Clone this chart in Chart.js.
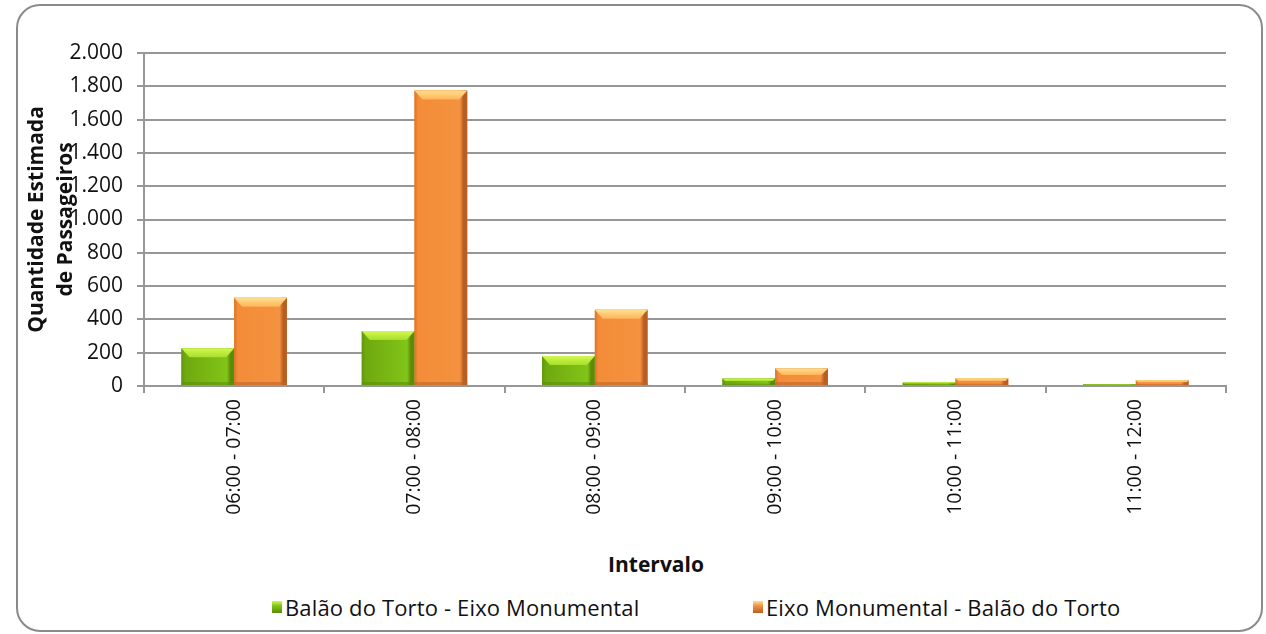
<!DOCTYPE html>
<html>
<head>
<meta charset="utf-8">
<script src="https://cdn.jsdelivr.net/npm/chart.js@4.4.0/dist/chart.umd.min.js"></script>
<style>
  html, body { margin: 0; padding: 0; background: #ffffff; }
  body { width: 1266px; height: 634px; position: relative; overflow: hidden; font-family: "Open Sans", sans-serif; color: #111; }
  #frame { position: absolute; left: 16px; top: 4px; width: 1247px; height: 628px; box-sizing: border-box;
           border: 2px solid #8a8a8a; border-radius: 24px; }
  #wrap { position: absolute; left: 0; top: 0; width: 1266px; height: 530px; }
  #xtitle { position: absolute; top: 550px; left: 556px; width: 200px; text-align: center; font-weight: 700; font-size: 21px; }
  #legend { position: absolute; top: 592px; left: 0; width: 1266px; height: 30px; font-size: 22px; }
  .item { position: absolute; top: 0; display: flex; align-items: center; white-space: nowrap; letter-spacing: 0.15px; }
  .sw { width: 10px; height: 12px; margin-right: 3px; }
</style>
</head>
<body>
<div id="frame"></div>
<div id="wrap"><canvas id="c"></canvas></div>
<div id="xtitle"></div>
<div id="legend"></div>
<script>
// ---- data ----
const categories = ['06:00 - 07:00', '07:00 - 08:00', '08:00 - 09:00', '09:00 - 10:00', '10:00 - 11:00', '11:00 - 12:00'];
const seriesNames = ['Balão do Torto - Eixo Monumental', 'Eixo Monumental - Balão do Torto'];
const balaoEixo = [226, 330, 180, 45, 22, 10];
const eixoBalao = [530, 1775, 458, 105, 46, 34];
const yTickLabels = ['0', '200', '400', '600', '800', '1.000', '1.200', '1.400', '1.600', '1.800', '2.000'];
const yTitle = ['Quantidade Estimada', 'de Passageiros'];
const xTitle = 'Intervalo';

// ---- styles ----
const palettes = [
  { base: '#76b512', edgeL: '#5f960c', body: '#6ea90e', body2: '#82c418', edgeR: '#5a8c0a', top1: '#d2f850', top2: '#a6de2a', bottom: '#5c8f0c' },
  { base: '#f28a36', edgeL: '#dc7428', body: '#f48c38', body2: '#f39240', edgeR: '#b85e22', top1: '#ffe08e', top2: '#fdb45a', bottom: '#c0662a' }
];
const gridColor = '#979797';

const bevel = {
  id: 'bevel',
  afterDatasetsDraw(chart) {
    const ctx = chart.ctx;
    chart.data.datasets.forEach((ds, i) => {
      const meta = chart.getDatasetMeta(i);
      const p = palettes[i];
      meta.data.forEach(bar => {
        const { x, y, base, width } = bar.getProps(['x', 'y', 'base', 'width'], true);
        const l = x - width / 2, r = x + width / 2;
        const t = Math.min(y, base), b = Math.max(y, base);
        const h = b - t;
        if (h <= 0) return;
        ctx.save();
        const g = ctx.createLinearGradient(l, 0, r, 0);
        g.addColorStop(0, p.edgeL);
        g.addColorStop(0.07, p.body);
        g.addColorStop(0.86, p.body2);
        g.addColorStop(0.93, p.edgeR);
        g.addColorStop(1, p.edgeR);
        ctx.fillStyle = g;
        ctx.fillRect(l, t, width, h);
        const bh = Math.min(9, h * 0.4);
        const inset = Math.min(bh, width * 0.15);
        const g2 = ctx.createLinearGradient(0, t, 0, t + bh);
        g2.addColorStop(0, p.top1);
        g2.addColorStop(1, p.top2);
        ctx.fillStyle = g2;
        ctx.beginPath();
        ctx.moveTo(l, t); ctx.lineTo(r, t); ctx.lineTo(r - inset, t + bh); ctx.lineTo(l + inset, t + bh);
        ctx.closePath(); ctx.fill();
        const bb = Math.min(3, h * 0.2);
        ctx.fillStyle = p.bottom;
        ctx.globalAlpha = 0.6;
        ctx.fillRect(l, b - bb, width, bb);
        ctx.restore();
      });
    });
  }
};

const chart = new Chart(document.getElementById('c'), {
  type: 'bar',
  data: {
    labels: categories,
    datasets: [
      { label: seriesNames[0], data: balaoEixo, backgroundColor: palettes[0].base, categoryPercentage: 0.585, barPercentage: 1.0 },
      { label: seriesNames[1], data: eixoBalao, backgroundColor: palettes[1].base, categoryPercentage: 0.585, barPercentage: 1.0 }
    ]
  },
  options: {
    responsive: true,
    maintainAspectRatio: false,
    animation: false,
    layout: { padding: { left: 20, right: 40, top: 53, bottom: 0 } },
    plugins: { legend: { display: false }, tooltip: { enabled: false } },
    scales: {
      x: {
        grid: { display: true, drawOnChartArea: false, drawTicks: true, tickLength: 7, color: gridColor, lineWidth: 2, offset: true },
        border: { display: true, color: gridColor, width: 2 },
        ticks: { color: '#111', font: { family: 'Open Sans', size: 19.5 }, maxRotation: 90, minRotation: 90, padding: 6, autoSkip: false },
        afterFit(scale) { scale.height = 144; }
      },
      y: {
        min: 0, max: 2000,
        grid: { color: gridColor, lineWidth: 2, tickLength: 7, drawTicks: true },
        border: { display: true, color: gridColor, width: 2 },
        ticks: { stepSize: 200, color: '#111', font: { family: 'Open Sans', size: 21 }, padding: 14,
                 callback: (v, i) => yTickLabels[i] },
        title: { display: true, text: yTitle, color: '#111', font: { family: 'Open Sans', size: 21, weight: 'bold', lineHeight: 1.4 }, padding: { top: 2, bottom: 0 } },
        afterFit(scale) { scale.width = 124; }
      }
    }
  },
  plugins: [bevel]
});

// axis title + legend as html text
document.getElementById('xtitle').textContent = xTitle;
const legendPos = [272, 753];
const lg = document.getElementById('legend');
seriesNames.forEach((name, i) => {
  const it = document.createElement('div');
  it.className = 'item';
  it.style.left = legendPos[i] + 'px';
  const sw = document.createElement('span');
  sw.className = 'sw';
  sw.style.background = `linear-gradient(${palettes[i].top1}, ${palettes[i].body2} 40%, ${palettes[i].edgeR})`;
  const tx = document.createElement('span');
  tx.textContent = name;
  it.appendChild(sw); it.appendChild(tx);
  lg.appendChild(it);
});
</script>
</body>
</html>
